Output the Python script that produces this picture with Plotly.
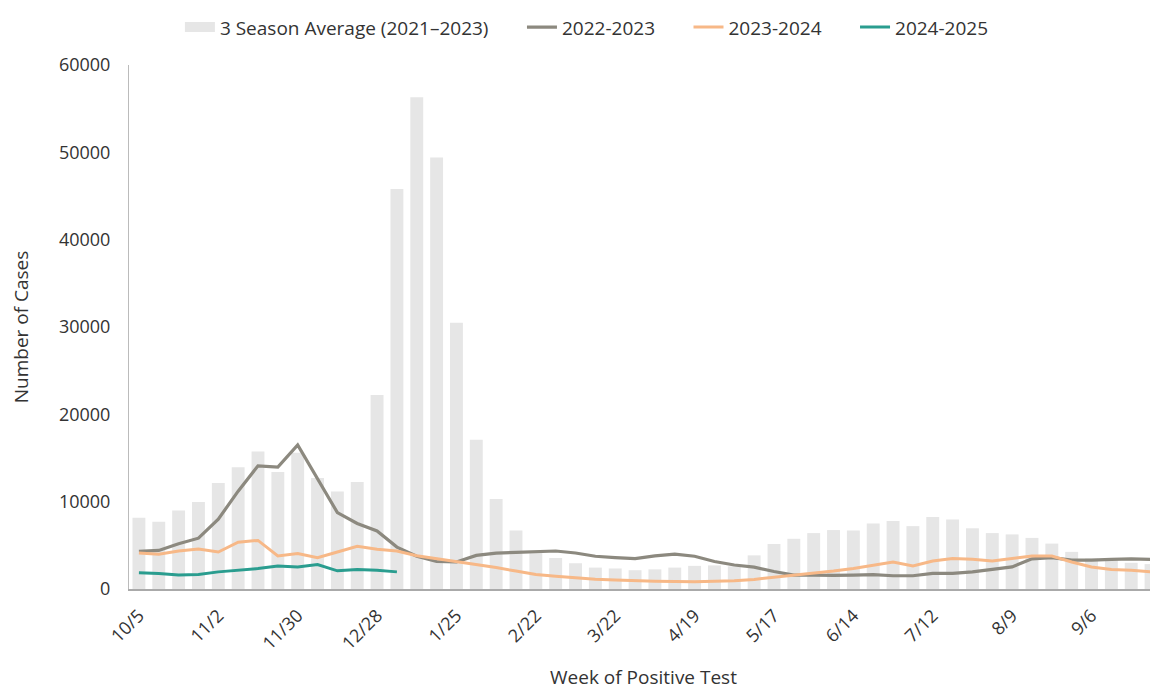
import plotly.graph_objects as go

weeks = ["10/5", "10/12", "10/19", "10/26", "11/2", "11/9", "11/16", "11/23",
         "11/30", "12/7", "12/14", "12/21", "12/28", "1/4", "1/11", "1/18",
         "1/25", "2/1", "2/8", "2/15", "2/22", "3/1", "3/8", "3/15",
         "3/22", "3/29", "4/5", "4/12", "4/19", "4/26", "5/3", "5/10",
         "5/17", "5/24", "5/31", "6/7", "6/14", "6/21", "6/28", "7/5",
         "7/12", "7/19", "7/26", "8/2", "8/9", "8/16", "8/23", "8/30",
         "9/6", "9/13", "9/20", "9/27"]

avg_3season = [8150, 7700, 9000, 9950, 12150, 13950, 15750, 13400,
               15600, 12700, 11150, 12250, 22200, 45800, 56300, 49400,
               30500, 17100, 10300, 6700, 4100, 3550, 2950, 2450,
               2350, 2150, 2250, 2450, 2650, 2700, 2600, 3850,
               5150, 5750, 6400, 6750, 6700, 7500, 7800, 7200,
               8250, 7950, 6950, 6400, 6250, 5850, 5200, 4250,
               3500, 3300, 3000, 2850]

s2022_2023 = [4300, 4420, 5180, 5820, 8000, 11200, 14100, 13950,
              16500, 12550, 8750, 7500, 6650, 4800, 3750, 3150,
              3100, 3850, 4100, 4200, 4300, 4350, 4120, 3750,
              3600, 3480, 3800, 4000, 3750, 3150, 2750, 2500,
              2000, 1600, 1600, 1550, 1600, 1650, 1520, 1520,
              1780, 1800, 1960, 2270, 2530, 3450, 3580, 3300,
              3300, 3400, 3450, 3400]

s2023_2024 = [4120, 3970, 4350, 4580, 4230, 5360, 5560, 3780,
              4050, 3590, 4230, 4880, 4540, 4350, 3800, 3480,
              3150, 2800, 2450, 2050, 1650, 1450, 1250, 1120,
              1020, 940, 900, 870, 830, 900, 940, 1100,
              1320, 1590, 1780, 2050, 2340, 2720, 3100, 2650,
              3210, 3480, 3400, 3210, 3480, 3780, 3780, 3100,
              2530, 2230, 2150, 1960]

s2024_2025 = [1850, 1780, 1590, 1660, 1960, 2150, 2340, 2640,
              2530, 2800, 2080, 2230, 2150, 1960]

tick_labels = weeks[::4]

font_family = "Open Sans, Noto Sans, sans-serif"
text_color = "#333333"
bar_color = "#e6e6e6"
pad = "\u2003\u2002"  # spacing between legend entries

fig = go.Figure()
fig.add_trace(go.Bar(
    x=weeks, y=avg_3season, name="3 Season Average (2021\u20132023)",
    marker=dict(color=bar_color, line=dict(width=0)), showlegend=False,
))
# legend-only entry giving the wide rectangular swatch of the bar series
fig.add_trace(go.Scatter(
    x=[None], y=[None], name="3 Season Average (2021\u20132023)" + pad, mode="lines",
    line=dict(color=bar_color, width=14),
))
fig.add_trace(go.Scatter(
    x=weeks, y=s2022_2023, name="2022-2023" + pad, mode="lines",
    line=dict(color="#8c897f", width=3.2),
))
fig.add_trace(go.Scatter(
    x=weeks, y=s2023_2024, name="2023-2024" + pad, mode="lines",
    line=dict(color="#f7b887", width=3),
))
fig.add_trace(go.Scatter(
    x=weeks[:len(s2024_2025)], y=s2024_2025, name="2024-2025", mode="lines",
    line=dict(color="#2a9d8f", width=3),
))

fig.update_layout(
    width=1150, height=682,
    margin=dict(l=121, r=0, t=52, b=101),
    paper_bgcolor="white", plot_bgcolor="white",
    font=dict(family=font_family, size=18, color=text_color),
    bargap=0.35,
    showlegend=True,
    legend=dict(orientation="h", x=0.445, xanchor="center", y=1.072,
                yanchor="middle", font=dict(size=19, color=text_color),
                traceorder="normal"),
)
fig.update_xaxes(
    type="category", categoryorder="array", categoryarray=weeks,
    range=[-0.5, 51.35], automargin=False,
    tickmode="array", tickvals=tick_labels, ticktext=tick_labels,
    tickangle=-45, tickfont=dict(size=18, color=text_color),
    ticklabelstandoff=7,
    showgrid=False, showline=True, linecolor="#aaaaaa", linewidth=2,
    ticks="", zeroline=False,
    title=dict(text="Week of Positive Test", font=dict(size=19, color=text_color), standoff=29),
)
fig.update_yaxes(
    range=[0, 60000], dtick=10000, tickformat="d", automargin=False,
    showgrid=False, showline=True, linecolor="#bbbbbb", linewidth=1,
    ticks="", zeroline=False, tickfont=dict(size=18, color=text_color),
    ticklabelstandoff=14,
    title=dict(text="Number of Cases", font=dict(size=19, color=text_color), standoff=34),
)

fig.write_html("out.html")
